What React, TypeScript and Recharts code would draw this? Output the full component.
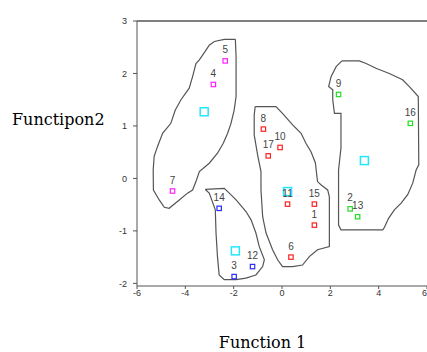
import { ScatterChart, Scatter, XAxis, YAxis, ZAxis, ReferenceLine, LabelList } from 'recharts';

// group members (case number, function 1, function 2)
const group1 = [
  { id: 4, x: -2.84, y: 1.79 },
  { id: 5, x: -2.35, y: 2.24 },
  { id: 7, x: -4.53, y: -0.24 },
];
const group2 = [
  { id: 14, x: -2.6, y: -0.57 },
  { id: 3, x: -1.98, y: -1.87 },
  { id: 12, x: -1.22, y: -1.68 },
];
const group3 = [
  { id: 8, x: -0.77, y: 0.94 },
  { id: 10, x: -0.08, y: 0.59 },
  { id: 17, x: -0.57, y: 0.43 },
  { id: 11, x: 0.23, y: -0.49 },
  { id: 15, x: 1.34, y: -0.49 },
  { id: 1, x: 1.34, y: -0.89 },
  { id: 6, x: 0.37, y: -1.5 },
];
const group4 = [
  { id: 9, x: 2.34, y: 1.6 },
  { id: 16, x: 5.31, y: 1.05 },
  { id: 2, x: 2.82, y: -0.58 },
  { id: 13, x: 3.13, y: -0.73 },
];
const centroids = [
  { x: -3.22, y: 1.27 },
  { x: -1.93, y: -1.38 },
  { x: 0.23, y: -0.25 },
  { x: 3.41, y: 0.34 },
];

// territory outlines, in function units
const hull1 = [
  [-1.93, 2.65], [-1.9, 2.32], [-1.9, 1.56], [-1.98, 1.3], [-2.11, 1.05], [-2.25, 0.86],
  [-2.43, 0.67], [-2.67, 0.48], [-3.01, 0.29], [-3.42, 0.13], [-3.56, -0.06], [-3.7, -0.22],
  [-3.91, -0.28], [-4.25, -0.41], [-4.67, -0.57], [-4.87, -0.55], [-5.08, -0.41], [-5.32, -0.22],
  [-5.33, 0.16], [-5.29, 0.42], [-5.15, 0.61], [-4.94, 0.86], [-4.6, 1.05], [-4.42, 1.3],
  [-4.18, 1.5], [-3.84, 1.72], [-3.7, 1.94], [-3.56, 2.19], [-3.42, 2.26], [-3.18, 2.42],
  [-3.01, 2.54], [-2.8, 2.61], [-2.39, 2.65], [-1.93, 2.65],
];
const hull2 = [
  [-3.18, -0.21], [-2.39, -0.19], [-2.18, -0.28], [-1.9, -0.41], [-1.49, -0.63], [-1.28, -0.79],
  [-1.08, -1.04], [-0.94, -1.3], [-0.73, -1.55], [-0.8, -1.68], [-1.08, -1.84], [-1.49, -1.9],
  [-1.9, -1.93], [-2.39, -1.93], [-2.6, -1.84], [-2.67, -1.49], [-2.73, -1.04], [-2.76, -0.6],
  [-3.01, -0.28], [-3.15, -0.22], [-3.18, -0.21],
];
const hull3 = [
  [-1.11, 1.37], [-0.25, 1.37], [0.02, 1.24], [0.44, 1.02], [0.79, 0.86], [0.99, 0.67],
  [1.2, 0.51], [1.38, 0.3], [1.47, -0.06], [1.61, -0.12], [1.89, -0.22], [1.96, -0.35],
  [1.96, -1.3], [1.47, -1.36], [1.13, -1.49], [0.85, -1.65], [0.44, -1.68], [0.02, -1.68],
  [-0.18, -1.55], [-0.39, -1.36], [-0.66, -1.04], [-0.8, -0.73], [-0.87, -0.22], [-0.87, 0.13],
  [-1.01, 0.45], [-1.15, 0.83], [-1.15, 1.21], [-1.11, 1.37],
];
const hull4 = [
  [2.48, 2.24], [3.2, 2.24], [3.48, 2.19], [3.89, 2.1], [4.44, 2.0], [4.99, 1.88],
  [5.27, 1.75], [5.64, 1.56], [5.66, 0.26], [5.55, 0.16], [5.41, -0.09], [5.2, -0.31],
  [4.93, -0.47], [4.65, -0.6], [4.41, -0.76], [4.24, -0.93], [4.17, -0.98], [2.44, -0.98],
  [2.34, -0.89], [2.34, 0.16], [2.44, 0.58], [2.44, 1.24], [2.17, 1.24], [2.1, 1.5],
  [2.1, 1.69], [1.93, 1.75], [2.03, 1.94], [2.24, 2.13], [2.48, 2.24],
];

const xTicks = [-6, -4, -2, 0, 2, 4, 6];
const yTicks = [-2, -1, 0, 1, 2, 3];

const toPts = (h: number[][]) => h.map(([x, y]) => ({ x, y }));

const square = (color: string, half: number, sw: number) => (props: any) => (
  <rect
    x={props.cx - half}
    y={props.cy - half}
    width={half * 2}
    height={half * 2}
    fill="#fff"
    stroke={color}
    strokeWidth={sw}
  />
);

const noDot = () => <g />;

const tickStyle = { fontSize: 9, fill: '#333', fontFamily: 'Liberation Sans, Arial, sans-serif' };

export default function App() {
  const groups = [
    { data: group1, color: '#ff22ff' },
    { data: group2, color: '#2a2aff' },
    { data: group3, color: '#ff2222' },
    { data: group4, color: '#22dd22' },
  ];
  return (
    <div style={{ position: 'absolute', left: 0, top: 0, width: 427, height: 352, background: '#fff' }}>
      <ScatterChart width={427} height={352} margin={{ top: 21, right: 0, bottom: 36, left: 0 }}>
        <XAxis
          type="number"
          dataKey="x"
          domain={[-6, 6]}
          ticks={xTicks}
          height={30}
          tick={tickStyle}
          tickSize={3}
          tickMargin={1}
          stroke="#555"
          allowDataOverflow
        />
        <YAxis
          type="number"
          dataKey="y"
          domain={[-2.05, 3]}
          ticks={yTicks}
          width={137}
          tick={tickStyle}
          tickSize={4}
          tickMargin={6}
          stroke="#555"
          allowDataOverflow
        />
        <ZAxis range={[30, 30]} />
        <ReferenceLine y={3} stroke="#555" strokeWidth={1.3} />
        {[hull1, hull2, hull3, hull4].map((h, i) => (
          <Scatter
            key={'h' + i}
            data={toPts(h)}
            line={{ stroke: '#555', strokeWidth: 1.2 }}
            lineType="joint"
            shape={noDot}
            isAnimationActive={false}
          />
        ))}
        <Scatter data={centroids} shape={square('#22e6ff', 4, 1.5)} isAnimationActive={false} />
        {groups.map((g, i) => (
          <Scatter key={'g' + i} data={g.data} shape={square(g.color, 2.2, 1.2)} isAnimationActive={false}>
            <LabelList
              dataKey="id"
              position="top"
              offset={3}
              style={{ fontSize: 10, fill: '#444', fontFamily: 'Liberation Sans, Arial, sans-serif' }}
            />
          </Scatter>
        ))}
      </ScatterChart>
      <div
        style={{
          position: 'absolute',
          left: 12,
          top: 110,
          fontFamily: 'DejaVu Serif, serif',
          fontSize: 16,
          color: '#000',
          whiteSpace: 'nowrap',
        }}
      >
        Functipon2
      </div>
      <div
        style={{
          position: 'absolute',
          left: 0,
          width: 525,
          top: 333,
          textAlign: 'center',
          fontFamily: 'DejaVu Serif, serif',
          fontSize: 16,
          color: '#000',
          whiteSpace: 'nowrap',
        }}
      >
        Function 1
      </div>
    </div>
  );
}
